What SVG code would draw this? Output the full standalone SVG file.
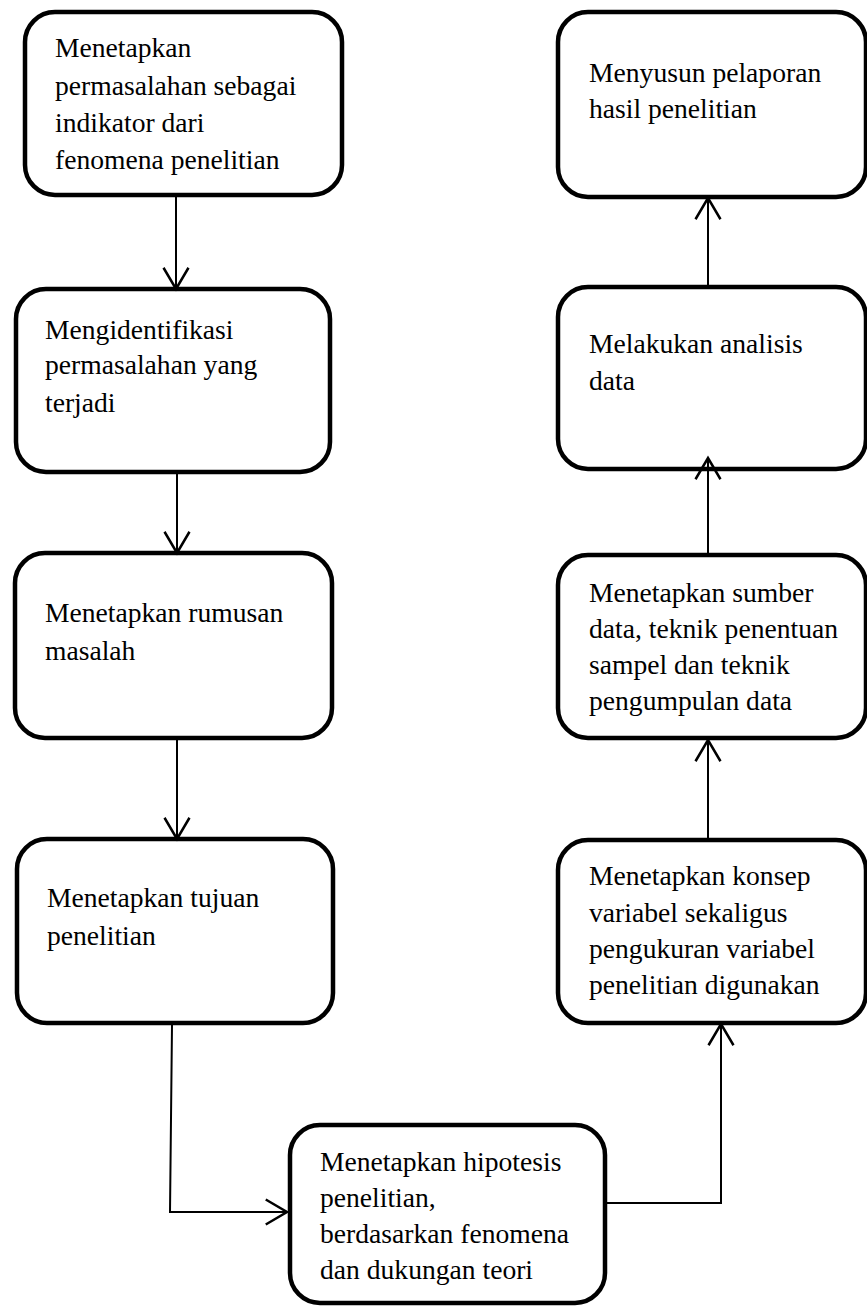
<svg xmlns="http://www.w3.org/2000/svg" width="867" height="1306" viewBox="0 0 867 1306">
<style>
.box{fill:#fff;stroke:#000;stroke-width:4.5}
.t{font-family:"Liberation Serif","Times New Roman",serif;font-size:27.6px;fill:#000}
.c{fill:none;stroke:#000;stroke-width:2}
</style>
<defs>
<marker id="ah" markerUnits="userSpaceOnUse" markerWidth="30" markerHeight="30" viewBox="-20 -12 22 24" refX="0" refY="0" orient="auto" overflow="visible">
<path d="M-17,-10 L0,0 L-17,10" fill="none" stroke="#000" stroke-width="2"/>
</marker>
</defs>
<rect width="867" height="1306" fill="#fff"/>
<g id="n1"><rect class="box" x="25" y="12" width="317" height="183" rx="30"/>
<text class="t" x="55" y="57">Menetapkan</text><text class="t" x="55" y="95">permasalahan sebagai</text><text class="t" x="55" y="132">indikator dari</text><text class="t" x="55" y="169">fenomena penelitian</text></g>
<g id="n2"><rect class="box" x="16" y="289" width="314" height="183" rx="30"/>
<text class="t" x="45" y="339">Mengidentifikasi</text><text class="t" x="45" y="374">permasalahan yang</text><text class="t" x="45" y="412">terjadi</text></g>
<g id="n3"><rect class="box" x="15" y="553" width="317" height="185" rx="30"/>
<text class="t" x="45" y="622">Menetapkan rumusan</text><text class="t" x="45" y="660">masalah</text></g>
<g id="n4"><rect class="box" x="17" y="839" width="316" height="184" rx="30"/>
<text class="t" x="47" y="907">Menetapkan tujuan</text><text class="t" x="47" y="945">penelitian</text></g>
<g id="n5"><rect class="box" x="290" y="1125" width="315" height="178" rx="30"/>
<text class="t" x="320" y="1171">Menetapkan hipotesis</text><text class="t" x="320" y="1207">penelitian,</text><text class="t" x="320" y="1243">berdasarkan fenomena</text><text class="t" x="320" y="1279">dan dukungan teori</text></g>
<g id="n6"><rect class="box" x="558" y="840" width="308" height="183" rx="30"/>
<text class="t" x="589" y="885">Menetapkan konsep</text><text class="t" x="589" y="922">variabel sekaligus</text><text class="t" x="589" y="958">pengukuran variabel</text><text class="t" x="589" y="994">penelitian digunakan</text></g>
<g id="n7"><rect class="box" x="558" y="555" width="308" height="183" rx="30"/>
<text class="t" x="589" y="602">Menetapkan sumber</text><text class="t" x="589" y="638">data, teknik penentuan</text><text class="t" x="589" y="674">sampel dan teknik</text><text class="t" x="589" y="710">pengumpulan data</text></g>
<g id="n8"><rect class="box" x="558" y="287" width="308" height="182" rx="30"/>
<text class="t" x="589" y="353">Melakukan analisis</text><text class="t" x="589" y="390">data</text></g>
<g id="n9"><rect class="box" x="558" y="12" width="308" height="185" rx="30"/>
<text class="t" x="589" y="82">Menyusun pelaporan</text><text class="t" x="589" y="118">hasil penelitian</text></g>
<g id="connectors">
<path class="c" d="M176,197 L176,289" marker-end="url(#ah)"/>
<path class="c" d="M177,474 L177,553" marker-end="url(#ah)"/>
<path class="c" d="M177,740 L177,839" marker-end="url(#ah)"/>
<path class="c" d="M172,1025 L170,1212 L287,1212" marker-end="url(#ah)"/>
<path class="c" d="M607,1203 L721,1203 L721,1024" marker-end="url(#ah)"/>
<path class="c" d="M708,838 L708,740" marker-end="url(#ah)"/>
<path class="c" d="M708,553 L708,458" marker-end="url(#ah)"/>
<path class="c" d="M708,285 L708,198" marker-end="url(#ah)"/>
</g>
</svg>
